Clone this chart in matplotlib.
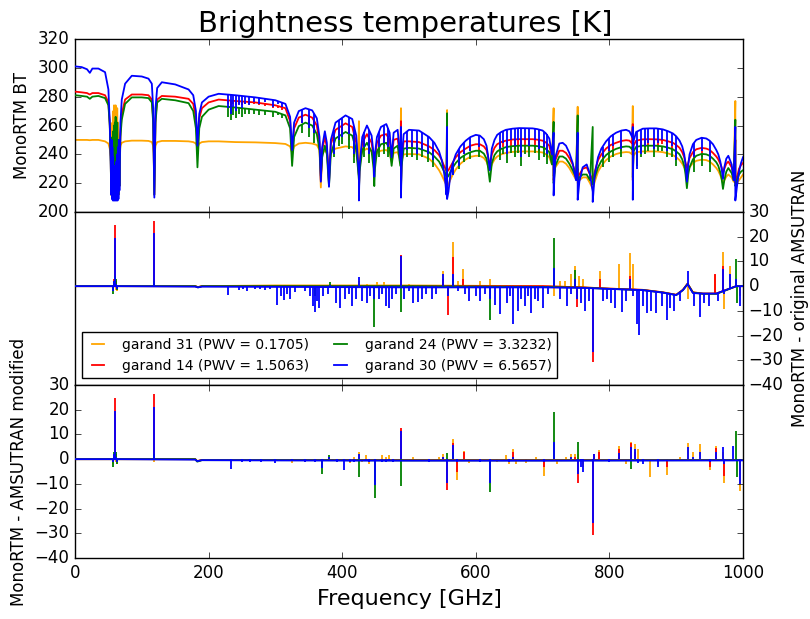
import matplotlib
matplotlib.use('Agg')
import matplotlib.pyplot

# Legend text for the four garand profiles (drawn in this order, last on top)
seriesLabel = ['garand 31 (PWV = 0.1705)', 'garand 14 (PWV = 1.5063)',
               'garand 24 (PWV = 3.3232)', 'garand 30 (PWV = 6.5657)']

# ------------------------------------------------------------------
# Top panel: MonoRTM brightness temperature [K] against frequency [GHz]
# (a repeated frequency holds the top and then the bottom of a line)
# ------------------------------------------------------------------
btFreq = [0, 10, 18, 22.2, 26, 35, 45, 50, 52, 53.5,
          54.2, 54.8, 55.4, 56.0, 56.6, 57.2, 57.8, 58.4, 59.0, 59.6,
          60.2, 60.8, 61.4, 62.0, 62.6, 63.2, 63.8, 64.4, 65.0, 65.6,
          66.5, 68, 70, 75, 85, 100, 110, 115, 117, 118.75,
          120.5, 123, 130, 150, 170, 177, 181, 183.3, 186, 190,
          200, 215, 240, 270, 300, 315, 322, 325, 328, 335,
          345, 355, 362, 366, 368, 370, 374, 377, 380.2, 383,
          390, 405, 415, 421, 424, 425, 425, 426, 430, 437,
          444, 447, 448, 449, 452, 458, 466, 471, 474, 477,
          483, 487, 488, 488, 489, 492, 500, 515, 530, 538,
          545, 549, 552, 554.5, 556, 557, 557, 559, 562, 565,
          570, 577, 585, 592, 600, 606, 612, 616, 618, 621,
          624, 628, 632, 638, 645, 655, 665, 685, 692, 700,
          705, 710, 714, 716.5, 716.5, 719, 725, 730, 735, 740,
          745, 750, 752.5, 752.5, 755, 760, 766, 771, 775, 775,
          778, 783, 788, 795, 802, 810, 818, 825, 830, 834,
          835, 835, 836, 840, 850, 860, 870, 880, 888, 895,
          900, 905, 909, 912, 914, 916, 918, 920, 925, 930,
          938, 945, 950, 955, 960, 963, 966, 968, 970, 972,
          975, 978, 983, 986, 988.5, 988.5, 991, 994, 997, 1000]

btGarand31 = [250, 250, 250, 249.8, 250, 250, 249, 247.5, 244, 239,
              238, 255, 240, 262, 240, 270, 240, 274, 240, 268,
              240, 274, 240, 266, 240, 272, 240, 262, 238, 250,
              240, 246, 248, 249, 249.5, 249.5, 249.3, 248.5, 246, 238,
              246, 248.5, 249.3, 249.3, 249, 248.5, 247.5, 245, 247.5, 248.5,
              249, 249, 248.5, 248.3, 247.8, 247.2, 245.5, 241, 245.5, 247.5,
              248, 247.5, 246.5, 243, 217, 240, 243, 241, 232, 241,
              244, 245.5, 245, 242, 236, 263, 230, 236, 242, 244,
              242, 238, 235, 238, 241, 242.5, 243, 241, 235, 241,
              241.5, 236, 272, 230, 236, 240, 240.2, 240, 237, 233.5,
              229, 225.5, 222.5, 220, 218.5, 270.7, 218, 219, 222.5, 225.5,
              229.5, 233.5, 236.5, 238.3, 239, 239, 237.5, 235, 232.5, 229,
              233, 236.5, 238.5, 240, 241, 241.7, 242, 242, 241.8, 241.3,
              240, 238, 233, 272, 225, 231, 235, 235, 233.5, 230.5,
              226.5, 222.5, 273, 220, 222, 224, 224, 220, 216, 216,
              221, 228, 232, 236, 238.5, 240.2, 241.2, 241.6, 241.4, 240,
              273.5, 226, 239, 241.5, 242, 242, 242, 241.5, 240.6, 239.5,
              238, 236, 233.5, 231, 229.5, 228, 229.5, 231, 234, 235.5,
              236.3, 236, 235, 233, 230.5, 228.5, 225.5, 223, 220, 222,
              224.5, 226, 224, 221, 277, 219, 220, 222, 224, 226]

btGarand14 = [283.5, 283, 282.5, 281.5, 282.5, 282.5, 281, 276, 262, 235,
              212, 245, 210, 250, 210, 255, 210, 258, 210, 260,
              210, 255, 210, 250, 210, 245, 210, 240, 212, 245,
              218, 255, 268, 278, 281.5, 281.5, 281, 278, 265, 212,
              265, 278, 280.5, 280, 278.5, 275, 265, 246, 265, 272,
              276, 278, 277, 276, 274, 272, 263, 240, 258, 265.5,
              267.5, 265.5, 260, 248, 222, 243, 252, 245, 220, 247,
              257, 261.5, 259, 248, 230, 225, 215, 230, 248, 254,
              248, 238, 228, 238, 248, 253, 254, 250, 238, 250,
              251, 236, 263, 218, 236, 249, 249, 248.5, 245.5, 243,
              239.5, 236, 232.5, 230, 228.5, 228, 228, 229, 231.5, 234,
              238, 241.5, 244, 246, 247, 247, 245.5, 243, 239, 232,
              240, 244.5, 247, 248.5, 249.5, 250.3, 250.5, 250.5, 250.2, 249.5,
              248.2, 246, 238, 240, 222, 236, 242.5, 242.5, 241, 237.5,
              233, 226, 230, 224, 226, 230, 231, 226, 222, 222,
              228, 236, 240, 244, 246.5, 248, 249.3, 249.8, 249.5, 247.5,
              261, 222, 246, 249.5, 250.4, 250.5, 250.4, 250, 249, 248,
              246.5, 244.5, 241.5, 238, 234, 230.5, 234, 237.5, 241.5, 243.5,
              244.5, 244, 243, 241, 238.5, 236.5, 233.5, 231, 227, 230,
              233.5, 235, 231, 225, 250, 220, 224, 230, 232.5, 234]

btGarand24 = [281, 280.5, 280, 278.5, 280, 280.5, 279, 274, 260, 233,
              212, 248, 210, 252, 210, 256, 210, 260, 210, 262,
              210, 266, 210, 258, 210, 262, 210, 250, 212, 245,
              218, 252, 264, 275, 279.5, 279.5, 279, 276, 262, 212,
              262, 276, 278.5, 277.5, 275.5, 270, 258, 231, 258, 266,
              271, 273.5, 272.5, 271, 269.5, 267, 258, 232, 252, 259.5,
              262, 260, 254, 243, 225, 238, 246, 240, 218, 240,
              251, 255.5, 253, 243, 228, 222, 214, 228, 243, 248,
              242, 230, 218, 230, 242, 247, 248, 244, 232, 244,
              246, 232, 255, 216, 232, 244, 244.5, 244, 241.5, 238.5,
              235, 231.5, 228.5, 226, 224.5, 268.5, 224, 225, 228, 230.5,
              234, 237.5, 240, 241.5, 242.5, 242.5, 240.5, 237, 232, 221,
              234, 239.5, 242, 243.8, 245, 245.7, 246, 246, 245.7, 245,
              243.7, 241.5, 233, 262.5, 220, 232, 238.5, 238.5, 237, 233.5,
              229, 224, 267, 222, 224, 226, 226, 222, 259, 219,
              224, 231, 235.5, 239.5, 242, 243.8, 245, 245.5, 245.3, 243.5,
              246, 224, 242, 245.2, 246, 246, 246, 245.5, 244.6, 243.5,
              242, 240, 236.5, 232, 226, 216.5, 226, 231, 236.5, 239,
              240.3, 240, 239, 237, 234.5, 232, 227.5, 223, 216, 222,
              228, 230.5, 227, 222, 264, 218, 222, 226, 228, 229]

btGarand30 = [301, 300.5, 299, 296.5, 299.5, 299.5, 297, 285, 262, 235,
              212, 250, 209, 245, 208, 238, 208, 232, 208, 228,
              208, 230, 208, 235, 208, 240, 208, 245, 209, 250,
              215, 262, 278, 289, 294.5, 294, 292.5, 289, 272, 210,
              272, 286, 290, 288.5, 285, 281, 270, 246, 268, 276,
              280, 282, 281, 279.5, 277.5, 275, 266, 243, 262, 270,
              272, 270.5, 265, 252, 221, 245, 256, 248, 217.5, 250,
              262, 267, 264.5, 253, 232, 225, 208, 232, 252, 260,
              253, 240, 224.5, 240, 252, 259, 261, 255, 238, 255,
              257, 236, 259, 210, 236, 254, 257, 256.5, 252, 248,
              242, 236, 229, 220, 212, 259, 209, 214, 226, 233,
              240, 245.5, 249.5, 252, 253.5, 253, 250.5, 246, 240, 229,
              244, 250, 253.5, 255.5, 257, 257.8, 258.2, 258, 257.5, 256.5,
              254.5, 251, 240, 255, 211.5, 238, 247.5, 248, 246, 241,
              234, 222, 255, 208.5, 221, 231, 233, 226, 214, 207,
              226, 238, 244, 249, 252.5, 255, 256.5, 257, 256, 252,
              259, 208.5, 249, 255.5, 257.8, 258, 258, 257.3, 256, 254.5,
              252.5, 249.5, 245.5, 240, 233, 221, 233, 240, 247, 250,
              251.5, 251, 249.5, 247, 243, 240, 235, 230, 223, 231,
              237, 239, 233, 222, 259, 208, 218, 228, 234, 238]

# Narrow water lines in the top panel (line top and line bottom, K)
combFreq = [229, 233, 237, 241, 246, 250, 255, 261, 268, 276, 285, 297, 304, 310,
            340, 350, 358,
            387, 395, 400, 410, 418,
            433, 440, 455, 462, 468,
            497, 505, 512, 520, 528, 536,
            566, 575, 583, 592, 605,
            636, 641, 647, 652, 658, 663, 668, 674, 680, 688, 694, 702, 706,
            790, 800, 806, 818,
            842, 848, 853, 858, 866, 872, 878, 886, 893, 900,
            926, 938, 950]

combTopGarand14 = [277.4, 277.3, 277.1, 277, 276.8, 276.7, 276.5, 276.3, 276.1, 275.6, 275, 274.2, 273.5, 272.7,
                   266.5, 266.5, 263.1,
                   252.7, 258.5, 260, 260.3, 253.5,
                   250.6, 251.4, 250.5, 253.5, 252.4,
                   249, 248.8, 248.6, 247.5, 245.9, 243.6,
                   234.8, 240.5, 243.4, 246, 247,
                   248, 248.9, 249.7, 250.1, 250.4, 250.5, 250.5, 250.5, 250.5, 250.4, 250, 249, 247.8,
                   241.1, 245.8, 247.3, 249.3,
                   249.7, 250.2, 250.4, 250.5, 250.4, 250.3, 250.1, 249.3, 248.6, 246.5,
                   241.9, 244.5, 243]
combBottomGarand14 = [275, 273, 275, 274, 275, 274, 275, 275, 275, 274, 273.5, 272, 272, 271,
                      262, 258, 255,
                      240, 250, 252, 250, 238,
                      243, 240, 243, 246, 244,
                      244, 244, 242, 243, 240, 236,
                      230, 236, 240, 242, 243,
                      242, 245, 240, 246, 244, 246, 238, 246, 243, 246, 242, 243, 238,
                      236, 240, 242, 242,
                      236, 242, 245, 246, 244, 246, 247, 242, 244, 236,
                      235, 238, 234]

combTopGarand24 = [272.9, 272.8, 272.6, 272.5, 272.2, 272, 271.8, 271.5, 271.1, 270.7, 270.3, 269.7, 268.8, 267.8,
                   260.8, 261, 257.4,
                   246.3, 252.5, 254, 254.3, 248,
                   245.1, 245.4, 244.5, 247.5, 246.4,
                   244.3, 244.3, 244.1, 243.2, 242.1, 239.3,
                   231.2, 236.5, 239.4, 241.5, 242.5,
                   243.2, 244.3, 245.1, 245.5, 245.8, 245.9, 246, 246, 246, 245.9, 245.5, 244.5, 243.2,
                   236.6, 241.3, 242.9, 245,
                   245.4, 245.8, 246, 246, 246, 245.9, 245.6, 244.8, 243.8, 242,
                   237, 240.3, 239]
combBottomGarand24 = [266, 264, 267, 265, 268, 266, 268, 268, 268, 267, 267.5, 266, 267, 265,
                      255, 252, 248,
                      238, 246, 247, 244, 234,
                      238, 234, 238, 240, 238,
                      238, 238, 236, 238, 235, 231,
                      226, 230, 235, 237, 238,
                      236, 240, 234, 241, 238, 241, 232, 240, 238, 241, 236, 238, 233,
                      231, 235, 238, 238,
                      232, 238, 240, 242, 238, 242, 242, 238, 238, 232,
                      228, 232, 228]

combTopGarand30 = [281.4, 281.3, 281.1, 281, 280.7, 280.5, 280.3, 280, 279.6, 279.1, 278.5, 277.7, 276.8, 275.8,
                   271, 271.3, 268.1,
                   256.9, 263.7, 265.3, 265.8, 258.8,
                   255.4, 257, 255.5, 260, 258.6,
                   255.9, 256.8, 256.6, 255, 252.6, 249,
                   234.4, 243.9, 248.5, 252, 253.1,
                   254.8, 256.1, 257.2, 257.6, 257.9, 258.1, 258.2, 258.1, 258, 257.8, 257.2, 255.7, 253.8,
                   245.4, 251.5, 253.8, 256.5,
                   256, 257.3, 257.9, 258, 258, 257.9, 257.4, 256.3, 255, 252.5,
                   247.6, 251.5, 249.5]
combBottomGarand30 = [272, 268, 273, 270, 274, 272, 275, 274, 276, 275, 276, 273, 275, 273,
                      262, 258, 255,
                      240, 250, 252, 254, 240,
                      245, 240, 245, 248, 245,
                      243, 245, 240, 243, 240, 236,
                      226, 232, 240, 242, 245,
                      244, 248, 240, 250, 246, 250, 238, 250, 246, 250, 244, 245, 240,
                      238, 242, 246, 244,
                      230, 240, 246, 248, 244, 248, 250, 242, 246, 236,
                      238, 242, 236]

# ------------------------------------------------------------------
# Middle panel: MonoRTM - original AMSUTRAN [K]
# ------------------------------------------------------------------
midBaseFreq = [0, 55, 66, 180, 184, 190, 300, 500, 700, 760, 800,
               850, 880, 900, 910, 917, 925, 940, 960, 975, 990, 1000]
midBaseGarand31 = [0, 0, 0, 0, -0.4, 0, 0.3, 0.3, 0, -0.5, -1,
                   -1.5, -2.5, -3.5, -1.5, 1, -2.5, -3, -3, -1.5, 0, 0]
midBaseGarand14 = [0, 0, 0, 0, -0.4, 0, 0, 0, 0, -0.5, -1,
                   -1.5, -2.5, -3.5, -1.5, 1, -2.5, -3, -3, -1.5, 0, 0]
midBaseGarand24 = [0, 0, 0, 0, -0.5, 0, 0, 0, -0.3, -0.6, -1.1,
                   -1.6, -2.6, -3.6, -1.6, 0.9, -2.6, -3.1, -3.1, -1.6, 0, 0]
midBaseGarand30 = [0, 0, 0, -0.2, -0.5, -0.2, -0.3, -0.5, -0.5, -0.7, -1.1,
                   -1.6, -2.6, -3.6, -1.6, 0.8, -2.8, -3, -3, -1.5, 0, 0]

midSpikeFreqGarand31 = [57, 58.5, 60.4, 61.5, 63, 118.75, 252, 270, 345, 425,
                        437, 452, 462, 487.5, 500, 526, 551, 566, 573, 581,
                        607, 621, 716.5, 726, 733, 743, 749, 755, 760, 786,
                        814, 831, 836, 917, 958, 970, 972, 980, 995]
midSpikeBaseGarand31 = [0, 0, 0, 0, 0, 0, 0, 0, 0, 0,
                        0, 0, 0, 0, 0, 0, 0, 0, 0, 0,
                        0, 0, 0, 0, 0, 0, 0, -0.5, -0.5, -0.8,
                        -1.1, -1.4, -1.4, 1, -3, -1.8, -1.6, -1, 0]
midSpikeTipGarand31 = [-2, 2, 16.5, -1.5, -2, 1, 0.5, 0.5, 0.5, 2,
                       1, 1.5, 1.5, 12, 1, 0.5, 6, 17.8, 2, 7,
                       2, 3, -3.8, 2, 2, 5, 8, 4, 3, 6.3,
                       9, 13.4, 9, -5, 4.5, 13.7, -9.2, 8, -4]

midSpikeFreqGarand14 = [57, 58.5, 60.4, 61.5, 118.75, 487.5, 551, 559, 566, 581,
                        749, 752, 775, 786, 831, 958, 970]
midSpikeBaseGarand14 = [0, 0, 0, 0, 0, 0, 0, 0, 0, 0,
                        0, -0.5, -0.7, -0.8, -1.4, -3, -1.8]
midSpikeTipGarand14 = [-1, 3, 24.7, 2, 26.3, 12.5, 3, -11.7, 11.7, 3,
                       3, -8.4, -30.6, 3, 4, 5, 8]

midSpikeFreqGarand24 = [57, 58.5, 60.4, 61.5, 63, 118.75, 359, 382, 448, 487.5,
                        566, 621, 716.5, 749, 989, 991]
midSpikeBaseGarand24 = [0, 0, 0, 0, 0, 0, 0, 0, 0, 0,
                        0, 0, 0, 0, -0.1, 0]
midSpikeTipGarand24 = [-3, 2, 4, 3, -1.5, 2, -4, 1.5, -16.6, -10.4,
                       3, -13.5, 19.4, 6.5, 11, -7]

midSpikeFreqGarand30 = [57, 58.5, 60.4, 61.5, 63, 118.75, 229, 245, 252, 258,
                        270, 277, 284, 292, 302, 308, 313, 318, 322, 330,
                        345, 352, 356, 359, 363, 366, 371, 378, 382, 390,
                        397, 404, 410, 415, 420, 425, 430, 437, 442, 448,
                        455, 460, 465, 470, 475, 480, 487.5, 493, 500, 506,
                        514, 519, 526, 534, 540, 551, 559, 566, 573, 584,
                        590, 600, 607, 614, 621, 628, 636, 646, 651, 656,
                        663, 668, 673, 678, 683, 688, 693, 700, 708, 716.5,
                        726, 736, 743, 749, 752, 758, 764, 769, 775, 790,
                        796, 802, 808, 819, 825, 831, 836, 841, 845, 850,
                        856, 862, 870, 878, 886, 891, 896, 906, 917, 926,
                        935, 942, 949, 963, 970, 972, 980, 989, 995]
midSpikeBaseGarand30 = [0, 0, 0, 0, 0, 0, 0, 0, 0, 0,
                        0, 0, 0, 0, 0, 0, 0, 0, 0, 0,
                        0, 0, 0, 0, 0, 0, 0, 0, 0, 0,
                        0, 0, 0, 0, 0, 0, 0, 0, 0, 0,
                        0, 0, 0, 0, 0, 0, 0, 0, 0, 0,
                        0, 0, 0, 0, 0, 0, 0, 0, 0, 0,
                        0, 0, 0, 0, 0, 0, 0, 0, 0, 0,
                        0, 0, 0, 0, 0, 0, 0, 0, 0, 0,
                        -0.6, -0.6, -0.7, -0.7, -0.7, -0.7, -0.8, -0.8, -0.9, -1,
                        -1, -1, -1.1, -1.2, -1.3, -1.4, -1.4, -1.5, -1.5, -1.6,
                        -2, -2.2, -2.3, -2.5, -2.8, -3.1, -3.4, -2.3, 0.8, -2.8,
                        -2.9, -3, -3, -2.6, -1.8, -1.6, -1, -0.1, 0]
midSpikeTipGarand30 = [-2, 2, 19.4, 1, -1, 21.4, -3.6, -1.5, -1.2, -1.8,
                       -1.3, -1, -1.5, -1.2, -7.7, -4, -5.5, -3, -5, -2.5,
                       -2, -4, -8, -10.4, -6, -9, -4, -3, 0.5, -7,
                       -9, -5, -3, -8, -5, 3.8, -6, -7, -4, -5,
                       -5, -3, -8, -9, -5, -3, 12, -5, -2, -6.8,
                       -6.5, -5, -3, -5, -3, 5, -4, 5, -2, -3,
                       -6, -4, -6, -3, -5, -7.8, -11.2, -7, -4, -15.3,
                       -10, -5, -8, -4, -11, -5, -6, -9, -3, 7.3,
                       -5, -8, -3, 3, -5, -7, -10, -6, -26.6, -6,
                       -5, -7, -9, -10.5, -6, 3, -4, -15.3, -19.7, -8,
                       -11, -10, -11, -8, -13.8, -9, -10, -6, 6.2, -8,
                       -12.5, -7, -8, -6, 7, -3, 5, 3, -8]

# ------------------------------------------------------------------
# Bottom panel: MonoRTM - AMSUTRAN modified [K]
# ------------------------------------------------------------------
botBaseFreq = [0, 55, 66, 180, 183, 190, 300, 500, 700, 1000]
botBaseGarand31 = [0, 0, 0, 0, -0.8, -0.3, -0.3, -0.4, -0.4, -0.3]
botBaseGarand14 = [0, 0, 0, 0, -0.8, -0.3, -0.3, -0.4, -0.4, -0.3]
botBaseGarand24 = [0, 0, 0, 0, -1, -0.4, -0.4, -0.5, -0.5, -0.4]
botBaseGarand30 = [0, 0, 0, -0.2, -0.8, -0.4, -0.5, -0.6, -0.6, -0.5]

botSpikeFreqGarand31 = [57, 58.5, 60.4, 61.5, 63, 118.75, 325, 345, 392, 412,
                        418, 425, 430, 435, 440, 460, 466, 470, 476, 487.5,
                        506, 545, 551, 566, 572, 583, 590, 632, 645, 650,
                        656, 660, 675, 690, 702, 716.5, 722, 735, 742, 748,
                        753, 760, 785, 815, 825, 833, 838, 843, 861, 872,
                        886, 905, 918, 925, 935, 951, 960, 970, 972, 996]
botSpikeTipGarand31 = [-2, 1, 17, -1, -2, -1, -1.5, -1, -1, -1.5,
                       1, 3, -1, 1.5, -2, 1.5, 1, 1.5, -1, 12,
                       1, 1, 2, 8.3, -8.5, 3.5, -1.5, -1, 1.5, -2,
                       4, -2, -1.5, 1, -6.9, 1, -2, 1, 2, 2,
                       2, -3, 3.7, 5.5, -2, 7.1, 6, 4, -7.4, -2,
                       -6.5, 1, 6.6, 3, 6, -4.5, 5.5, 3, -9.5, -13]

botSpikeFreqGarand14 = [57, 58.5, 60.4, 61.5, 63, 118.75, 487.5, 551, 557, 566,
                        572, 583, 656, 702, 716.5, 748, 753, 775, 777, 785,
                        815, 833, 838, 886, 951, 960, 972]
botSpikeTipGarand14 = [-1, 2, 24.6, 2, -1, 26.3, 12.8, 1, -12.5, 6.5,
                       -5, 3, 3, -3, 1, 1, -9.7, -30.8, 2, 3,
                       4, 6.5, 3, -3, -3, 4.5, -7]

botSpikeFreqGarand24 = [57, 58.5, 60.4, 61.5, 63, 118.75, 369, 380, 425, 449,
                        487.5, 557, 566, 621, 716.5, 753, 833, 989, 991]
botSpikeTipGarand24 = [-3, 3, 3, 3, -2, 2, -6, 1.7, -7.1, -15.6,
                       -10.8, 2.5, 3, -13.2, 18.9, 7.1, -4, 11.5, -7.4]

botSpikeFreqGarand30 = [57, 58.5, 60.4, 61.5, 63, 118.75, 233, 250, 262, 278,
                        300, 325, 345, 360, 369, 380, 392, 403, 412, 418,
                        425, 435, 440, 449, 460, 466, 470, 476, 487.5, 530,
                        551, 557, 566, 572, 607, 621, 650, 656, 702, 716.5,
                        742, 753, 757, 760, 775, 777, 800, 815, 833, 838,
                        843, 850, 872, 918, 925, 935, 951, 960, 970, 972,
                        985, 996]
botSpikeTipGarand30 = [-1, 2, 19.4, 1, -1, 21.2, -3.8, -1, -1, -1.2,
                       -1.5, -0.8, -1, -1.2, -3.5, 1, -1, -4.4, -1, -1,
                       2, -0.5, -1, -10.4, -1, -1, -0.5, -1, 11.5, -1,
                       1, -9.8, 5.8, -1, -1, -9.8, -1, 1, -1, 7.1,
                       1, -6, -3, -5, -26, 2, -1, 2.5, 5, 4,
                       -1.5, -2, -3, 5, 1, 3, -1, 3, 5, -2,
                       5.5, -10]


# Old style matplotlib look (inward ticks on every side), white background
matplotlib.pyplot.style.use('classic')
matplotlib.pyplot.rcParams.update({'figure.facecolor': 'white',
                                   'savefig.facecolor': 'white'})

seriesColor = ['orange', 'r', 'g', 'b']
lineWidth = 1.3

# Three stacked panels sharing the frequency axis, no gap between them
figure = matplotlib.pyplot.figure(figsize=(8.1, 6.19), dpi=100)
axesTop, axesMid, axesBot = figure.subplots(3, 1, sharex=True)
figure.subplots_adjust(left=0.0926, right=0.9173, bottom=0.0985, top=0.937,
                       hspace=0)

# Top panel, brightness temperatures plus the narrow lines on top of them
btValues = [btGarand31, btGarand14, btGarand24, btGarand30]
combTop = [None, combTopGarand14, combTopGarand24, combTopGarand30]
combBottom = [None, combBottomGarand14, combBottomGarand24, combBottomGarand30]
for i in range(len(btValues)):
   axesTop.plot(btFreq, btValues[i], color=seriesColor[i],
                linewidth=lineWidth, zorder=2 + i)
   if combTop[i] is not None:
      axesTop.vlines(combFreq, combBottom[i], combTop[i], color=seriesColor[i],
                     linewidth=lineWidth, zorder=2 + i)

# Middle panel, difference to the original AMSUTRAN
midBase = [midBaseGarand31, midBaseGarand14, midBaseGarand24, midBaseGarand30]
midSpikeFreq = [midSpikeFreqGarand31, midSpikeFreqGarand14,
                midSpikeFreqGarand24, midSpikeFreqGarand30]
midSpikeBase = [midSpikeBaseGarand31, midSpikeBaseGarand14,
                midSpikeBaseGarand24, midSpikeBaseGarand30]
midSpikeTip = [midSpikeTipGarand31, midSpikeTipGarand14,
               midSpikeTipGarand24, midSpikeTipGarand30]
for i in range(len(midBase)):
   axesMid.plot(midBaseFreq, midBase[i], color=seriesColor[i],
                linewidth=lineWidth, zorder=2 + i, label=seriesLabel[i])
   axesMid.vlines(midSpikeFreq[i], midSpikeBase[i], midSpikeTip[i],
                  color=seriesColor[i], linewidth=lineWidth, zorder=2 + i)

# Bottom panel, difference to the modified AMSUTRAN
botBase = [botBaseGarand31, botBaseGarand14, botBaseGarand24, botBaseGarand30]
botSpikeFreq = [botSpikeFreqGarand31, botSpikeFreqGarand14,
                botSpikeFreqGarand24, botSpikeFreqGarand30]
botSpikeTip = [botSpikeTipGarand31, botSpikeTipGarand14,
               botSpikeTipGarand24, botSpikeTipGarand30]
for i in range(len(botBase)):
   axesBot.plot(botBaseFreq, botBase[i], color=seriesColor[i],
                linewidth=lineWidth, zorder=2 + i)
   axesBot.vlines(botSpikeFreq[i], 0, botSpikeTip[i], color=seriesColor[i],
                  linewidth=lineWidth, zorder=2 + i)

# Axis limits, ticks and labels
axesTop.set_xlim(0, 1000)
axesTop.set_xticks(range(0, 1001, 200))
axesTop.set_ylim(200, 320)
axesTop.set_yticks(range(200, 321, 20))
axesTop.set_ylabel('MonoRTM BT', fontsize=12)

axesMid.set_ylim(-40, 30)
axesMid.set_yticks(range(-40, 31, 10))
axesMid.yaxis.tick_right()
axesMid.yaxis.set_label_position('right')
axesMid.set_ylabel('MonoRTM - original AMSUTRAN', fontsize=12)

axesBot.set_ylim(-40, 30)
axesBot.set_yticks(range(-40, 31, 10))
axesBot.set_ylabel('MonoRTM - AMSUTRAN modified', fontsize=12)
axesBot.set_xlabel('Frequency [GHz]', fontsize=16)

legend = axesMid.legend(loc='lower left', ncol=2, fontsize=10,
                        handlelength=1.5, handletextpad=1.0,
                        columnspacing=1.5)

figure.text(0.5, 0.948, 'Brightness temperatures [K]', ha='center',
            va='baseline', fontsize=21)

figure.savefig('out.png', dpi=100)
